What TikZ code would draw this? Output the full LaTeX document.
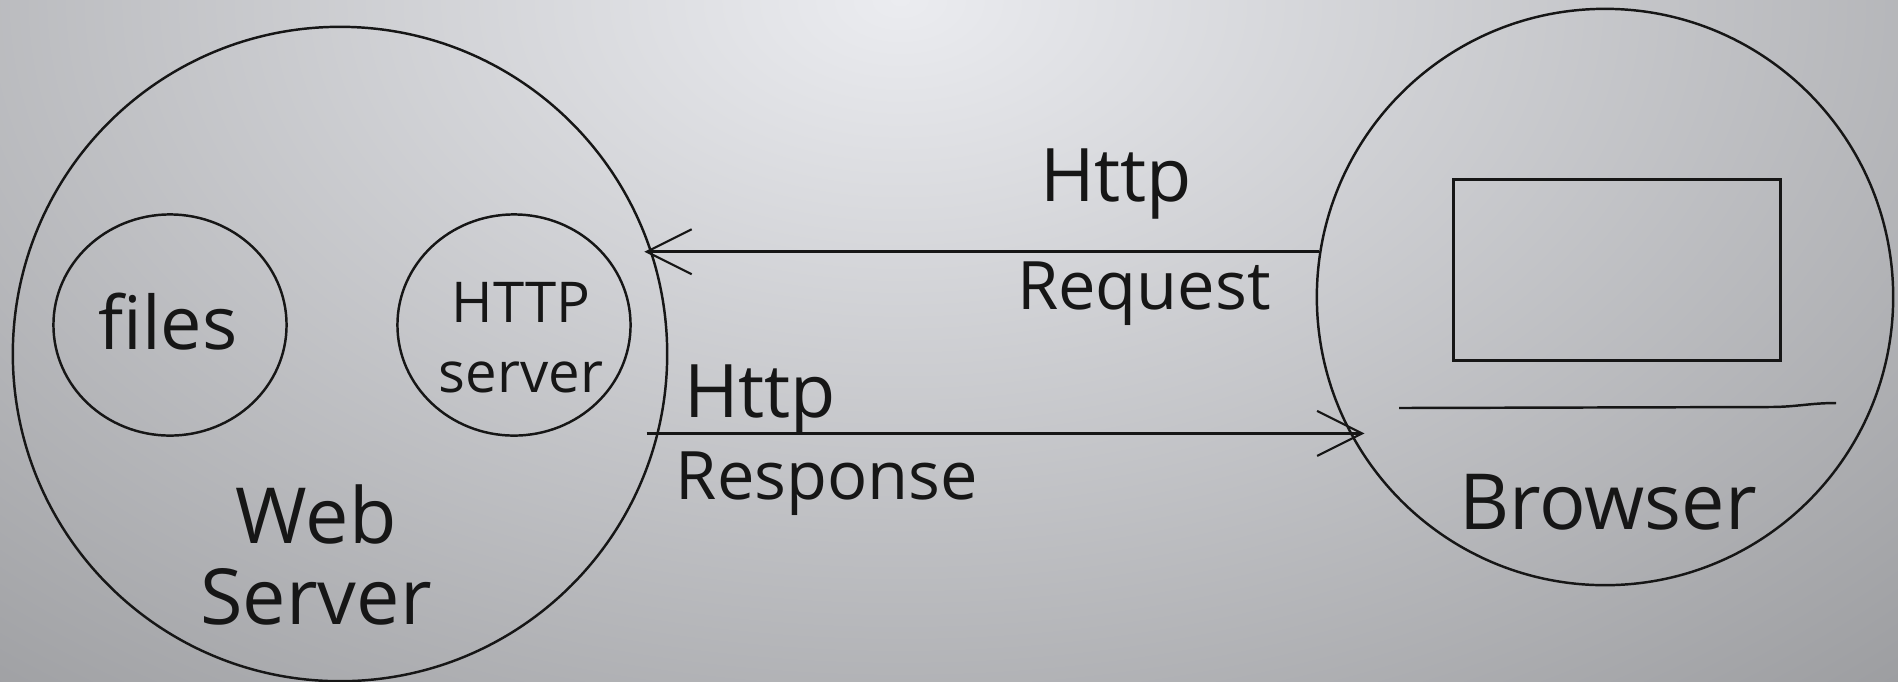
\documentclass[tikz,border=0pt]{standalone}
\usepackage{fontspec}
\setmainfont{Open Sans}
\usetikzlibrary{arrows.meta,shapes.geometric}
\definecolor{bgin}{HTML}{EBECF0}
\definecolor{bgout}{HTML}{939497}
\definecolor{ink}{HTML}{161616}

\begin{document}
\begin{tikzpicture}[x=0.01cm,y=-0.01cm,line width=0.7pt,
  blob/.style={draw=ink,ellipse,inner sep=0pt,minimum width=2.33cm,minimum height=2.21cm},
  ring/.style={draw=ink,circle,inner sep=0pt},
  lbl/.style={text=ink,inner sep=0pt,align=center,font=\fontsize{21}{25}\selectfont},
  msg/.style={draw=ink,line width=0.8pt,-{Straight Barb[length=4.5mm,width=4.5mm,line width=0.6pt]}}]
  \useasboundingbox (0,0) rectangle (1898,681);
  \begin{scope}
   \clip (0,0) rectangle (1898,681);
   \shade[inner color=bgin,outer color=bgout] (-750,-1050) rectangle (2550,1050);
  \end{scope}
  % web server side
  \node[ring,minimum size=6.54cm] (server) at (340,354) {};
  \node[blob] (filesbox) at (170,325) {};
  \node[blob] (httpbox) at (514,325) {};
  \node[lbl] (files) at (168,322) {files};
  \node[lbl,font=\fontsize{16}{20}\selectfont] (httpsrv) at (521,338) {HTTP\\server};
  \node[lbl,font=\fontsize{22}{23}\selectfont] (websrv) at (316,555) {Web\\Server};
  % browser side
  \node[ring,minimum size=5.76cm] (browser) at (1605,297) {};
  \node[draw=ink,rectangle,minimum width=3.27cm,minimum height=1.81cm] (screen) at (1617,270) {};
  \draw[ink] (1399,408) -- (1770,407) to[out=0,in=180] (1836,403);
  \node[lbl,font=\fontsize{22}{26}\selectfont] (brlbl) at (1608,502) {Browser};
  % messages
  \draw[msg,shorten >=-0.08cm] (browser.171.6) -- (server.18.4 |- browser.171.6);
  \draw[msg,shorten <=-0.12cm,shorten >=-0.15cm] (server.-14) -- (browser.208.2 |- server.-14);
  \node[lbl] (reqa) at (1116,184) {Http};
  \node[lbl,font=\fontsize{19}{23}\selectfont] (reqb) at (1144,294) {Request};
  \node[lbl] (respa) at (760,400) {Http};
  \node[lbl,font=\fontsize{19}{23}\selectfont] (respb) at (827,484) {Response};
\end{tikzpicture}
\end{document}
